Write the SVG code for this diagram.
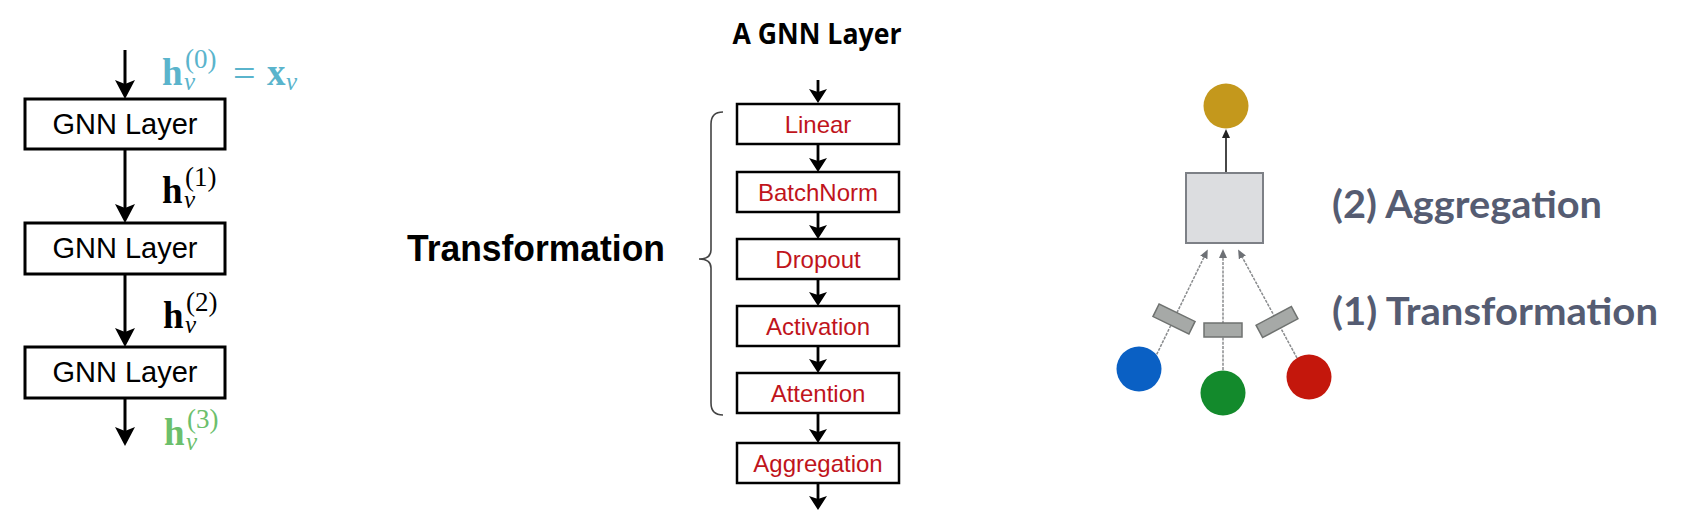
<svg xmlns="http://www.w3.org/2000/svg" width="1684" height="520" viewBox="0 0 1684 520">
<style>
  .box { fill: #ffffff; stroke: #000000; stroke-width: 3; }
  .sbox { fill: #ffffff; stroke: #000000; stroke-width: 2.5; }
  .lbl { font-family: "Liberation Sans", Arial, sans-serif; font-size: 29px; fill: #000; text-anchor: middle; }
  .red { font-family: "Liberation Sans", Arial, sans-serif; font-size: 24px; fill: #c0141c; text-anchor: middle; }
  .big { font-family: "Liberation Sans", Arial, sans-serif; font-size: 37px; font-weight: bold; fill: #000; }
  .title { font-family: "Open Sans", "Liberation Sans", sans-serif; font-size: 28px; font-weight: bold; fill: #000; text-anchor: middle; }
  .side { font-family: Lato, "Open Sans", sans-serif; font-size: 38px; font-weight: bold; fill: #555c72; }
  .math { font-family: "Liberation Serif", "DejaVu Serif", serif; }
  .mh { font-size: 37px; font-weight: bold; }
  .ms { font-size: 25px; font-style: italic; }
  .mp { font-size: 27px; }
  .me { font-size: 40px; }
  .teal { fill: #5ab4cc; }
  .blk { fill: #000; }
  .grn { fill: #6cbf6c; }
  .bigline { stroke: #000; stroke-width: 3; fill: none; }
  .midline { stroke: #000; stroke-width: 2.8; fill: none; }
  .dot { stroke: #8a8c8e; stroke-width: 1.5; stroke-dasharray: 3 1.2; fill: none; }
  .tbar { fill: #a6a9a7; stroke: #6f7270; stroke-width: 1.5; }
</style>
<defs>
  <marker id="ahBig" markerUnits="userSpaceOnUse" markerWidth="20" markerHeight="20" refX="12" refY="10" orient="auto">
    <path d="M0,0 L19,10 L0,20 L4,10 z" fill="#000"/>
  </marker>
  <marker id="ahMid" markerUnits="userSpaceOnUse" markerWidth="15" markerHeight="18" refX="9" refY="9" orient="auto">
    <path d="M0,0 L14,9 L0,18 L3,9 z" fill="#000"/>
  </marker>
  <marker id="ahSmall" markerUnits="userSpaceOnUse" markerWidth="10" markerHeight="8" refX="5" refY="4" orient="auto">
    <path d="M0,0 L9,4 L0,8 z" fill="#222"/>
  </marker>
  <marker id="ahGray" markerUnits="userSpaceOnUse" markerWidth="10" markerHeight="8" refX="5" refY="4" orient="auto">
    <path d="M0,0 L9,4 L0,8 z" fill="#6d7075"/>
  </marker>
</defs>
<rect width="1684" height="520" fill="#ffffff"/>

<g id="connectors">
  <line class="bigline" x1="125" y1="50" x2="125" y2="92" marker-end="url(#ahBig)"/>
  <line class="bigline" x1="125" y1="149" x2="125" y2="216" marker-end="url(#ahBig)"/>
  <line class="bigline" x1="125" y1="274" x2="125" y2="340" marker-end="url(#ahBig)"/>
  <line class="bigline" x1="125" y1="398" x2="125" y2="439" marker-end="url(#ahBig)"/>

  <line class="midline" x1="818" y1="80" x2="818" y2="98" marker-end="url(#ahMid)"/>
  <line class="midline" x1="818" y1="144" x2="818" y2="167" marker-end="url(#ahMid)"/>
  <line class="midline" x1="818" y1="212" x2="818" y2="234" marker-end="url(#ahMid)"/>
  <line class="midline" x1="818" y1="279" x2="818" y2="301" marker-end="url(#ahMid)"/>
  <line class="midline" x1="818" y1="346" x2="818" y2="368" marker-end="url(#ahMid)"/>
  <line class="midline" x1="818" y1="413" x2="818" y2="438" marker-end="url(#ahMid)"/>
  <line class="midline" x1="818" y1="483" x2="818" y2="505" marker-end="url(#ahMid)"/>

  <line x1="1226" y1="173" x2="1226" y2="133" stroke="#333" stroke-width="1.8" marker-end="url(#ahSmall)"/>
  <line class="dot" x1="1153" y1="362" x2="1206" y2="253" marker-end="url(#ahGray)"/>
  <line class="dot" x1="1223" y1="370" x2="1223" y2="253" marker-end="url(#ahGray)"/>
  <line class="dot" x1="1297" y1="358" x2="1240" y2="253" marker-end="url(#ahGray)"/>

  <path d="M723,112 Q711,112 711,124 L711,250 Q711,259 699,259 Q711,259 711,268 L711,403 Q711,415 723,415" stroke="#444" stroke-width="1.6" fill="none"/>
</g>

<g id="gnn1"><rect class="box" x="25" y="99" width="200" height="50"/><text class="lbl" x="125" y="134">GNN Layer</text></g>
<g id="gnn2"><rect class="box" x="25" y="223" width="200" height="51"/><text class="lbl" x="125" y="258">GNN Layer</text></g>
<g id="gnn3"><rect class="box" x="25" y="347" width="200" height="51"/><text class="lbl" x="125" y="382">GNN Layer</text></g>

<g id="h0">
  <text class="math teal"><tspan class="mh" x="162" y="85">h</tspan><tspan class="ms" x="184" y="90">v</tspan><tspan class="mp" x="185" y="68">(0)</tspan><tspan class="me" x="233" y="87">=</tspan><tspan class="mh" x="267" y="85">x</tspan><tspan class="ms" x="286" y="90">v</tspan></text>
</g>
<g id="h1">
  <text class="math blk"><tspan class="mh" x="162" y="203">h</tspan><tspan class="ms" x="184" y="208">v</tspan><tspan class="mp" x="185" y="186">(1)</tspan></text>
</g>
<g id="h2">
  <text class="math blk"><tspan class="mh" x="163" y="328">h</tspan><tspan class="ms" x="185" y="333">v</tspan><tspan class="mp" x="186" y="311">(2)</tspan></text>
</g>
<g id="h3">
  <text class="math grn"><tspan class="mh" x="164" y="445">h</tspan><tspan class="ms" x="186" y="450">v</tspan><tspan class="mp" x="187" y="428">(3)</tspan></text>
</g>

<g id="title"><text class="title" x="817" y="44" textLength="169" lengthAdjust="spacingAndGlyphs">A GNN Layer</text></g>
<g id="transformation-label"><text class="big" x="407" y="261" textLength="258" lengthAdjust="spacingAndGlyphs">Transformation</text></g>

<g id="linear"><rect class="sbox" x="737" y="104" width="162" height="40"/><text class="red" x="818" y="133">Linear</text></g>
<g id="batchnorm"><rect class="sbox" x="737" y="172" width="162" height="40"/><text class="red" x="818" y="201">BatchNorm</text></g>
<g id="dropout"><rect class="sbox" x="737" y="239" width="162" height="40"/><text class="red" x="818" y="268">Dropout</text></g>
<g id="activation"><rect class="sbox" x="737" y="306" width="162" height="40"/><text class="red" x="818" y="335">Activation</text></g>
<g id="attention"><rect class="sbox" x="737" y="373" width="162" height="40"/><text class="red" x="818" y="402">Attention</text></g>
<g id="aggregation"><rect class="sbox" x="737" y="443" width="162" height="40"/><text class="red" x="818" y="472">Aggregation</text></g>

<g id="target-node"><circle cx="1226" cy="106" r="22.5" fill="#c4981c"/></g>
<g id="agg-box"><rect x="1186" y="173" width="77" height="70" fill="#dcdde0" stroke="#7d8086" stroke-width="2"/></g>
<g id="t-left"><rect class="tbar" x="1154" y="312" width="40" height="14" transform="rotate(26 1174 319)"/></g>
<g id="t-mid"><rect class="tbar" x="1204" y="323" width="38" height="14"/></g>
<g id="t-right"><rect class="tbar" x="1257" y="315" width="40" height="14" transform="rotate(-28 1277 322)"/></g>
<g id="node-blue"><circle cx="1139" cy="369" r="22.5" fill="#0a60c4"/></g>
<g id="node-green"><circle cx="1223" cy="393" r="22.5" fill="#138a2c"/></g>
<g id="node-red"><circle cx="1309" cy="377" r="22.5" fill="#c4170c"/></g>

<g id="side-labels">
  <text class="side" x="1332" y="218" textLength="270" lengthAdjust="spacingAndGlyphs">(2) Aggregation</text>
  <text class="side" x="1332" y="325" textLength="326" lengthAdjust="spacingAndGlyphs">(1) Transformation</text>
</g>
</svg>
